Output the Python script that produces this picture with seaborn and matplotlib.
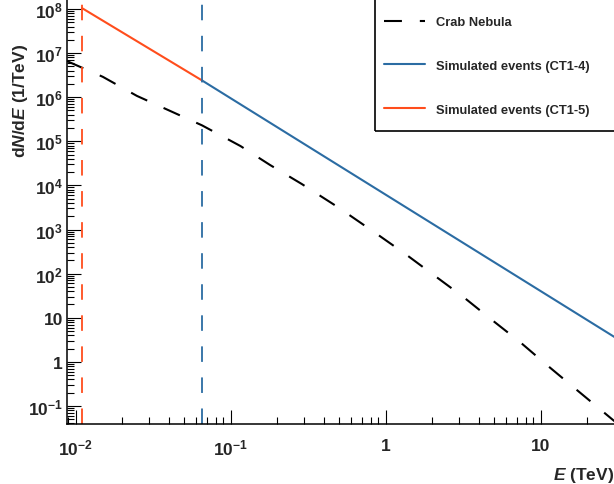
import matplotlib
matplotlib.use("Agg")
import matplotlib.pyplot as plt
import matplotlib.ticker as mticker
from matplotlib.patches import Rectangle
import numpy as np
import pandas as pd
import seaborn as sns

# Crab Nebula spectrum, E in TeV, dN/dE in 1/TeV
crab_energy = [0.0088, 0.0150, 0.0249, 0.0655, 0.116, 0.180, 0.289, 0.494,
               0.88, 1.34, 2.08, 3.16, 4.86, 7.38, 11.2, 16.9, 30.0]
crab_flux = [6.6e6, 2.9e6, 1.07e6, 2.3e5, 7.8e4, 2.9e4, 1.07e4, 3.2e3,
             790, 280, 89, 30, 8.9, 2.8, 0.80, 0.24, 0.045]

# simulated event spectra
ct15_energy = [0.011, 0.0655]
ct15_flux = [1.05e8, 2.4e6]
ct14_energy = [0.0655, 30.0]
ct14_flux = [2.4e6, 3.65]

# energy thresholds (dashed verticals)
ct15_threshold = 0.011
ct14_threshold = 0.0655

x_ticks = [0.01, 0.1, 1, 10]
x_tick_labels = [r"$10^{-2}$", r"$10^{-1}$", "1", "10"]
y_ticks = [0.1, 1, 10, 1e2, 1e3, 1e4, 1e5, 1e6, 1e7, 1e8]
y_tick_labels = [r"$10^{-1}$", "1", "10", r"$10^{2}$", r"$10^{3}$", r"$10^{4}$",
                 r"$10^{5}$", r"$10^{6}$", r"$10^{7}$", r"$10^{8}$"]

RED = "#ff4d1c"
BLUE = "#2b6ca3"

sns.set_style("white")
plt.rcParams["font.family"] = ["Liberation Sans", "DejaVu Sans"]
plt.rcParams["font.weight"] = "bold"
plt.rcParams["mathtext.fontset"] = "custom"
plt.rcParams["mathtext.rm"] = "Liberation Sans:bold"
plt.rcParams["mathtext.bf"] = "Liberation Sans:bold"
plt.rcParams["mathtext.it"] = "Liberation Sans:bold:italic"

fig = plt.figure(figsize=(6.14, 4.85), dpi=100)
ax = fig.add_axes([67 / 614, 60 / 485, (614 - 67) / 614, 425 / 485])

dash = (0, (8.6, 8.6))
crab = pd.DataFrame({"E": crab_energy, "flux": crab_flux})
sns.lineplot(data=crab, x="E", y="flux", ax=ax, color="black", lw=1.5,
             linestyle=dash, label="Crab Nebula")
sns.lineplot(x=ct14_energy, y=ct14_flux, ax=ax, color=BLUE, lw=1.5,
             label="Simulated events (CT1-4)")
sns.lineplot(x=ct15_energy, y=ct15_flux, ax=ax, color=RED, lw=1.5,
             label="Simulated events (CT1-5)")
ax.axvline(ct15_threshold, color=RED, lw=1.3, linestyle=dash)
ax.axvline(ct14_threshold, color=BLUE, lw=1.3, linestyle=dash)

ax.set_xscale("log")
ax.set_yscale("log")
ax.set_xlim(10 ** -2.055, 10 ** 1.474)
ax.set_ylim(10 ** -1.41, 10 ** 8.227)

ax.set_xticks(x_ticks, x_tick_labels)
ax.set_yticks(y_ticks, y_tick_labels)
ax.xaxis.set_minor_locator(mticker.LogLocator(base=10, subs=np.arange(2, 10), numticks=100))
ax.yaxis.set_minor_locator(mticker.LogLocator(base=10, subs=np.arange(2, 10), numticks=100))
ax.xaxis.set_minor_formatter(mticker.NullFormatter())
ax.yaxis.set_minor_formatter(mticker.NullFormatter())
ax.tick_params(axis="both", which="both", bottom=True, left=True,
               top=False, right=False)
ax.tick_params(axis="both", which="major", direction="in", length=10, width=0.8,
               labelsize=12.5, color="black")
ax.tick_params(axis="both", which="minor", direction="in", length=5, width=0.8,
               color="black")
ax.tick_params(axis="x", which="major", pad=10)
ax.tick_params(axis="y", which="major", pad=3)

for s in ["top", "right"]:
    ax.spines[s].set_visible(False)
for s in ["left", "bottom"]:
    ax.spines[s].set_linewidth(1.1)
    ax.spines[s].set_color("black")

ax.set_xlabel("")
ax.set_ylabel("")
fig.text(21 / 614, 1 - 158 / 485, r"d$N$/d$E$ (1/TeV)", rotation=90,
         ha="center", va="bottom", fontsize=12.5, fontweight="bold")
fig.text(1.0, 5 / 485, r"$E$ (TeV)", ha="right", va="baseline",
         fontsize=12.5, fontweight="bold")

ax.legend(loc="center left", bbox_to_anchor=(384 / 614, 1 - 67 / 485),
          bbox_transform=fig.transFigure, frameon=False, fontsize=9.3,
          borderpad=0, borderaxespad=0, labelspacing=2.45,
          handlelength=3.2, handletextpad=0.8)
fig.patches.append(Rectangle((375 / 614, 1 - 132 / 485), 0.5, 0.5,
                             transform=fig.transFigure, fill=False,
                             edgecolor="black", lw=1.2, clip_on=False))

fig.savefig("out.png", dpi=100)
